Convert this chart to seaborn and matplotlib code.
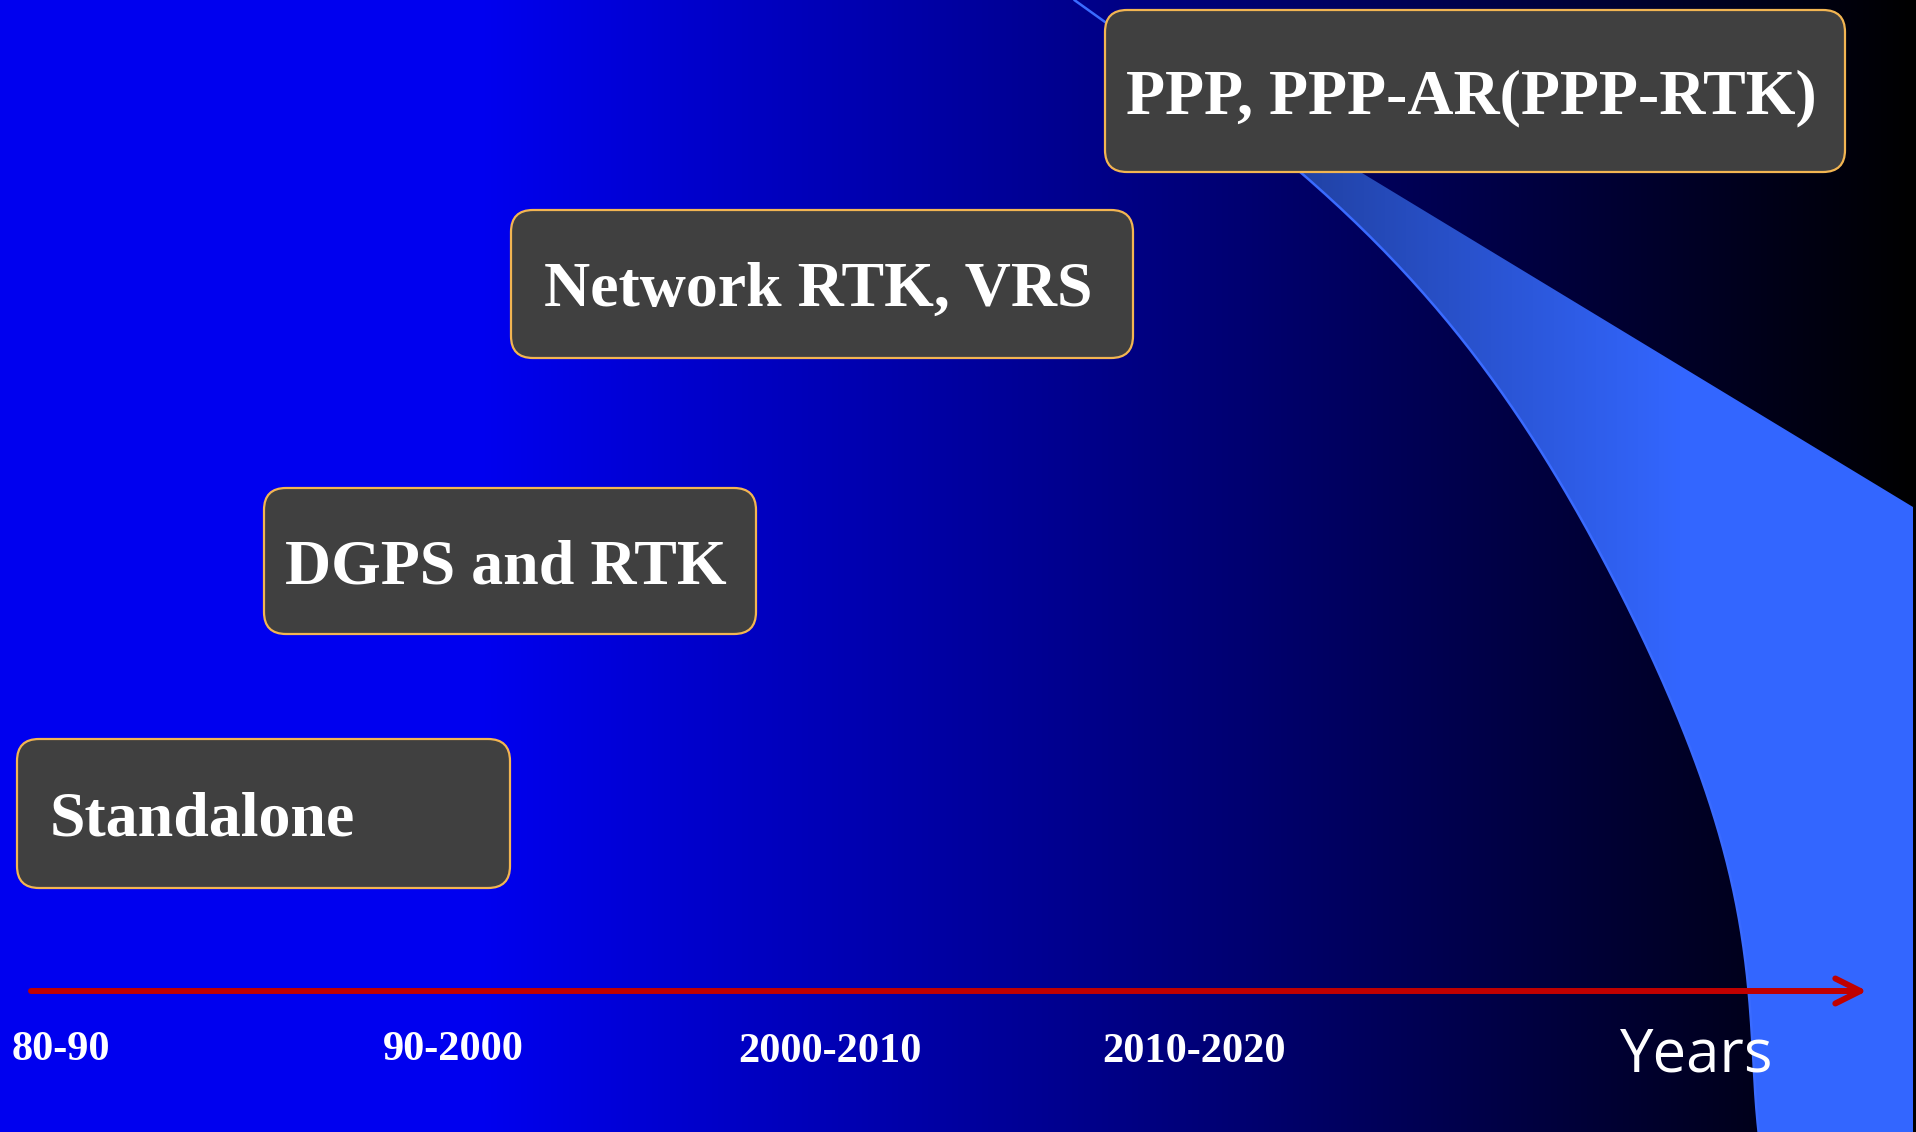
import numpy as np
import seaborn as sns
import matplotlib
matplotlib.use("Agg")
import matplotlib.pyplot as plt
from matplotlib.patches import FancyBboxPatch, Polygon

# timeline data
eras = ["80-90", "90-2000", "2000-2010", "2010-2020"]
methods = ["Standalone", "DGPS and RTK", "Network RTK, VRS", "PPP, PPP-AR(PPP-RTK)"]
axis_label = "Years"

# layout (pixel space of the slide, y pointing down)
W, H = 1916, 1132
era_x = [12, 453, 830, 1194]
era_ha = ["left", "center", "center", "center"]
era_y = [1046, 1046, 1048, 1048]
box_x0 = [17, 264, 511, 1105]
box_x1 = [510, 756, 1133, 1845]
box_y0 = [739, 488, 210, 10]
box_y1 = [888, 634, 358, 172]

# swoosh outline
curve_x = [1075, 1190, 1305, 1383, 1450, 1508, 1567, 1600, 1640, 1673, 1703, 1727, 1740, 1748, 1755, 1758]
curve_y = [0, 86, 173, 250, 327, 400, 496, 553, 630, 706, 783, 859, 936, 989, 1060, 1132]
# straight upper edge of the swoosh (hidden corner sits behind the top box)
edge_x = [1913, 1362, 1300]
edge_y = [507, 173, 120]

# smooth the hand-read outline with a least squares fit x(y)
coef = np.polyfit(curve_y, curve_x, 6)
sm_y = np.linspace(0, H, 240)
sm_x = np.polyval(coef, sm_y)

sns.set_theme(style="white")
plt.rcParams["font.family"] = ["Liberation Serif", "DejaVu Serif"]

fig = plt.figure(figsize=(19.16, 11.32), dpi=100)
ax = fig.add_axes([0, 0, 1, 1])

# background: flat blue on the left fading to black at the right
xs = np.arange(W)
blue = np.interp(xs, [0, 480, W], [0.94, 0.94, 0.0])
bg = np.zeros((1, W, 3))
bg[0, :, 2] = blue
ax.imshow(bg, extent=[0, W, H, 0], aspect="auto", zorder=0)

# light blue swoosh with its own horizontal gradient
keep = sm_y >= 100
poly_pts = list(zip(sm_x[keep], sm_y[keep])) + [(1913, H)] + list(zip(edge_x, edge_y))
swoosh = Polygon(poly_pts, closed=True, facecolor="none", edgecolor="none")
ax.add_patch(swoosh)
t = np.clip((xs - 1250) / 430.0, 0, 1)
sw = np.zeros((1, W, 3))
sw[0, :, 0] = 0.12 + 0.08 * t
sw[0, :, 1] = 0.24 + 0.16 * t
sw[0, :, 2] = 0.60 + 0.40 * t
im = ax.imshow(sw, extent=[0, W, H, 0], aspect="auto", zorder=1)
im.set_clip_path(swoosh)

sns.lineplot(x=sm_x, y=sm_y, sort=False, color="#3A6BFF", linewidth=1.8,
             ax=ax, zorder=2, legend=False)
ax.set_xlim(0, W)
ax.set_ylim(H, 0)
ax.axis("off")

# method boxes
for i, name in enumerate(methods):
    bw = box_x1[i] - box_x0[i]
    bh = box_y1[i] - box_y0[i]
    box = FancyBboxPatch((box_x0[i], box_y0[i]), bw, bh,
                         boxstyle="round,pad=0,rounding_size=22",
                         facecolor="#404040", edgecolor="#F2B552",
                         linewidth=1.6, zorder=3)
    ax.add_patch(box)
    cy = box_y0[i] + bh / 2
    if i == 0:
        ax.text(box_x0[i] + 33, cy, name, ha="left", va="center_baseline",
                color="white", fontsize=46, fontweight="bold", zorder=4)
    else:
        ax.text(box_x0[i] + bw / 2 - 4, cy, name, ha="center", va="center_baseline",
                color="white", fontsize=46, fontweight="bold", zorder=4)

# timeline arrow
ax.annotate("", xy=(1867, 991), xytext=(31, 991),
            arrowprops=dict(arrowstyle="->", color="#C00000", lw=4.3,
                            mutation_scale=45, capstyle="round",
                            joinstyle="round", shrinkA=0, shrinkB=0),
            zorder=5)

for i, era in enumerate(eras):
    ax.text(era_x[i], era_y[i], era, ha=era_ha[i], va="center_baseline",
            color="white", fontsize=30.5, fontweight="bold", zorder=5)

ax.text(1697, 1048, axis_label, ha="center", va="center_baseline", color="white",
        fontsize=43, family=["Open Sans", "DejaVu Sans"], zorder=5)

fig.savefig("out.png", dpi=100)
